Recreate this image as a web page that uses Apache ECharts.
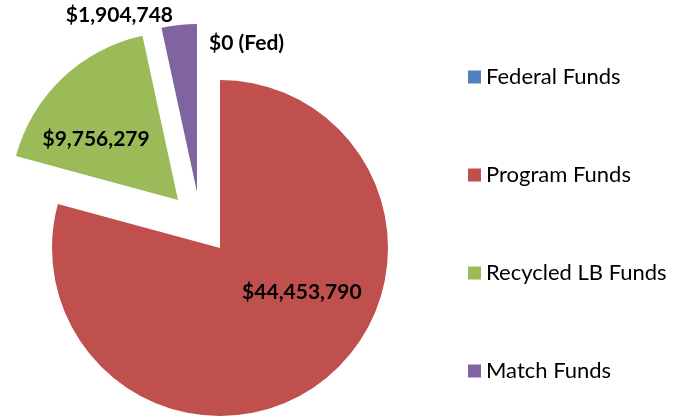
<!DOCTYPE html>
<html>
<head>
<meta charset="utf-8">
<script src="https://cdn.jsdelivr.net/npm/echarts@6/dist/echarts.min.js"></script>
<style>
  html, body { margin: 0; padding: 0; background: #fff; }
  #chart { width: 673px; height: 420px; }
</style>
</head>
<body>
<div id="chart"></div>
<script>
// data
const names = ['Federal Funds', 'Program Funds', 'Recycled LB Funds', 'Match Funds'];
const values = [0, 44453790, 9756279, 1904748];
const labelSuffix = [' (Fed)', '', '', ''];
const colors = ['#4F81BD', '#C0504D', '#9BBB59', '#8064A2'];

const font = 'Lato, "Open Sans", sans-serif';

// each exploded slice gets its own pie (same data, same angles, shifted centre)
const pieParts = [
    { center: [220, 248], shows: [0, 1] },
    { center: [178, 200], shows: [2] },
    { center: [197, 192], shows: [3] }
];

// per slice label placement
const labelStyle = {
    0: { position: 'outside' },
    1: { position: 'inside' },
    2: { position: 'inside' },
    3: { position: 'outside' }
};
const labelShift = {
    0: [-6, 0, 'left'],
    1: [29, -25],
    2: [-22, 2],
    3: [0, 0]
};

function money(v) {
    return '$' + v.toLocaleString('en-US');
}

const series = pieParts.map(function (part) {
    return {
        type: 'pie',
        center: part.center,
        radius: 168,
        startAngle: 90,
        clockwise: true,
        avoidLabelOverlap: false,
        silent: true,
        animation: false,
        labelLine: { show: false, length: 37, length2: 0 },
        labelLayout: function (p) {
            const s = labelShift[p.dataIndex] || [0, 0];
            const out = { dx: s[0], dy: s[1] };
            if (s[2]) out.align = s[2];
            return out;
        },
        data: names.map(function (n, i) {
            const on = part.shows.indexOf(i) >= 0;
            const item = {
                name: n,
                value: values[i],
                itemStyle: { color: on ? colors[i] : 'rgba(0,0,0,0)' },
                label: {
                    show: on,
                    position: labelStyle[i].position,
                    formatter: money(values[i]) + labelSuffix[i],
                    color: '#000',
                    fontFamily: font,
                    fontWeight: 'bold',
                    fontSize: 21
                }
            };
            if (i === 3) {
                item.labelLine = { show: false, length: 10, length2: 0 };
            }
            return item;
        })
    };
});

const myChart = echarts.init(document.getElementById('chart'));
myChart.setOption({
    backgroundColor: '#fff',
    legend: {
        orient: 'vertical',
        left: 463,
        top: 61,
        itemGap: 76,
        itemWidth: 13,
        itemHeight: 13,
        icon: 'rect',
        selectedMode: false,
        textStyle: {
            fontFamily: font,
            fontSize: 22,
            lineHeight: 22,
            color: '#000'
        },
        data: names.map(function (n, i) {
            return { name: n, itemStyle: { color: colors[i] } };
        })
    },
    series: series
});
</script>
</body>
</html>
